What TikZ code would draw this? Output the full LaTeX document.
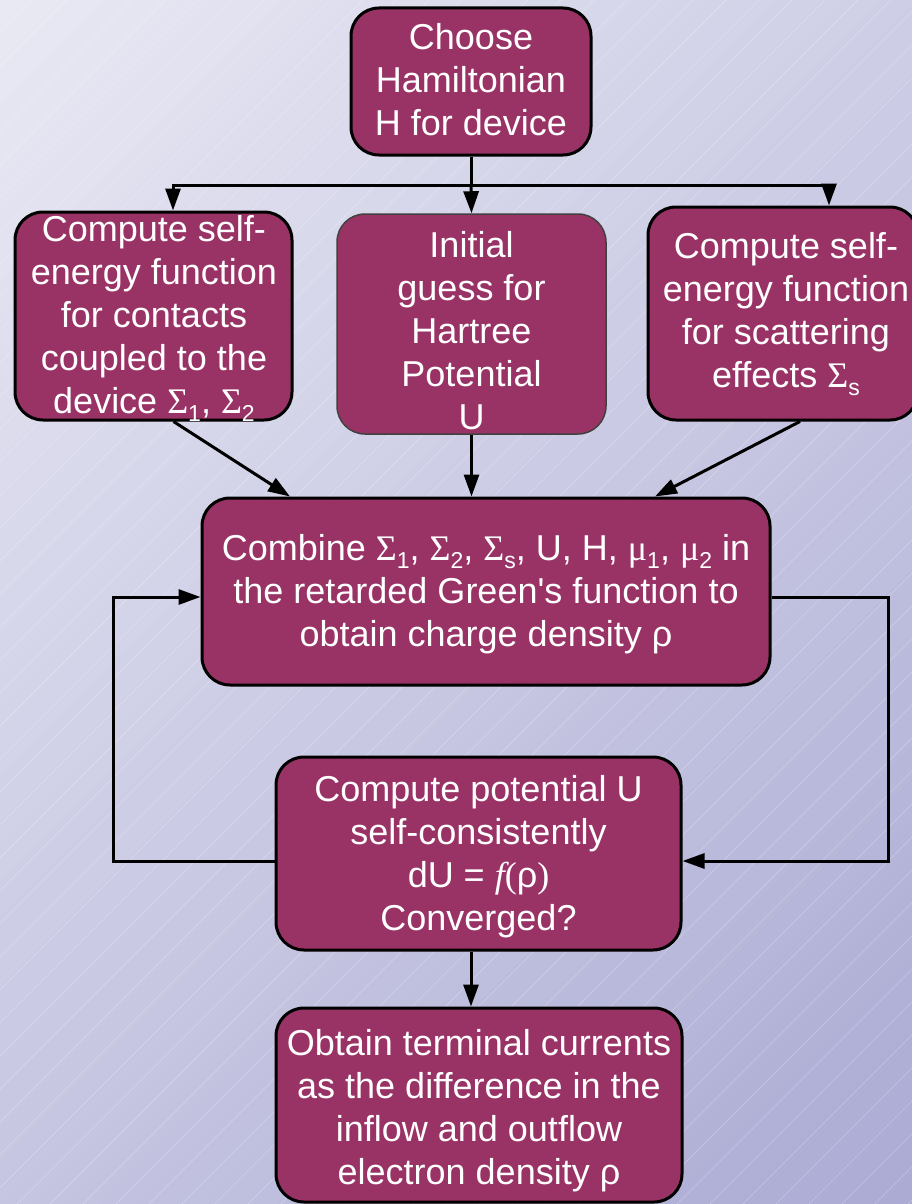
\documentclass[tikz,border=0pt]{standalone}
\usepackage{fontspec}
\setmainfont{Liberation Sans}
\newfontfamily\serifont{Liberation Serif}
\usetikzlibrary{arrows.meta,calc}
\definecolor{plum}{HTML}{993366}
\definecolor{bgA}{HTML}{E9E9F4}
\definecolor{bgB}{HTML}{ABABD4}
\newcommand\subs[1]{\raisebox{-0.22em}{\fontsize{23}{23}\selectfont #1}}
\newcommand\Sig{{\serifont Σ}}
\newcommand\muu{{\serifont μ}}
\begin{document}
\begin{tikzpicture}[x=1pt,y=-1pt,
  box/.style={draw=black, line width=3pt, fill=plum, rounded corners=28pt, inner sep=0pt},
  thinbox/.style={box, draw=black!75, line width=1.5pt},
  txt/.style={text=white, align=center, font=\fontsize{36}{43}\selectfont, inner sep=0pt},
  arr/.style={line width=3pt, -{Triangle[length=22pt,width=15pt]}},
  ln/.style={line width=3pt},
  hatch/.style={white, opacity=0.3, line width=0.6pt}]
\useasboundingbox (0,0) rectangle (912,1204);
\clip (0,0) rectangle (912,1204);
% diagonal gradient background, drawn as thin stripes
\foreach \i in {0,...,59}{
  \pgfmathsetmacro{\ca}{\i*35.2667}
  \pgfmathsetmacro{\cb}{\i*35.2667+36.3}
  \pgfmathtruncatemacro{\p}{100-\i*100/59}
  \fill[bgA!\p!bgB] (\ca,0) -- (\cb,0) -- ({\cb-1300},1300) -- ({\ca-1300},1300) -- cycle;
}
\foreach \c in {0,33,...,2150} \draw[hatch] (\c,0) -- ({\c-1300},1300);

% boxes
\node[box, minimum width=240pt, minimum height=147pt] (top) at (471,81.5) {};
\node[txt] (topT) at (471,80) {Choose\\Hamiltonian\\H for device};

\node[box, minimum width=277pt, minimum height=208pt] (left) at (153.5,316) {};
\node[txt] (leftT) at (154,318) {Compute self-\\energy function\\for contacts\\coupled to the\\device \Sig\subs{1}, \Sig\subs{2}};

\node[thinbox, minimum width=269pt, minimum height=220pt] (mid) at (471.5,324) {};
\node[txt] (midT) at (471.5,331) {Initial\\guess for\\Hartree\\Potential\\U};

\node[box, minimum width=270pt, minimum height=213pt] (right) at (783,313.5) {};
\node[txt] (rightT) at (786,314) {Compute self-\\energy function\\for scattering\\effects \Sig\subs{s}};

\node[box, minimum width=568pt, minimum height=187pt] (comb) at (486,591.5) {};
\node[txt] (combT) at (486,594) {Combine \Sig\subs{1}, \Sig\subs{2}, \Sig\subs{s}, U, H, \muu\subs{1}, \muu\subs{2} in\\the retarded Green\textquotesingle s function to\\obtain charge density ρ};

\node[box, minimum width=405pt, minimum height=193pt] (pot) at (478.5,853.5) {};
\node[txt] (potT) at (478.5,857) {Compute potential U\\self-consistently\\dU = {\serifont\itshape f}{\serifont(}ρ{\serifont)}\\Converged?};

\node[box, minimum width=406pt, minimum height=194pt] (bot) at (479,1105) {};
\node[txt] (botT) at (479,1111) {Obtain terminal currents\\as the difference in the\\inflow and outflow\\electron density ρ};

% connectors
\coordinate (split) at (471,185);
\draw[ln] (top.south) -- (split);
\draw[arr] (split) -| ($(left.north)+(19.5,0)$);
\draw[arr] (split) -| ($(right.north)+(46,0)$);
\draw[arr] (split) -- (mid.north);

\draw[arr] ($(left.south)+(20,0)$) -- ($(comb.north)+(-196,0)$);
\draw[arr] (mid.south) -- ($(comb.north)+(-14.5,0)$);
\draw[arr] ($(right.south)+(17,0)$) -- ($(comb.north)+(169,0)$);

\coordinate (rc) at (888,597);
\draw[arr] ($(comb.east)+(0,5.5)$) -- (rc) |- ($(pot.east)+(0,7.5)$);
\coordinate (lc) at (113,861);
\draw[arr] ($(pot.west)+(0,7.5)$) -- (lc) |- ($(comb.west)+(0,5.5)$);

\draw[arr] ($(pot.south)+(-7.5,0)$) -- ($(bot.north)+(-8,0)$);
\end{tikzpicture}
\end{document}
